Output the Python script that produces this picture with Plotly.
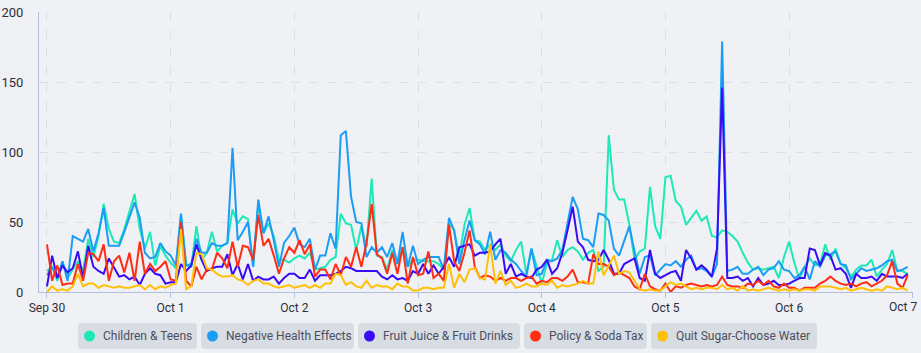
import plotly.graph_objects as go
import pandas as pd

# ---------------- data (hourly, Sep 30 00:00 -> Oct 6 23:00) ----------------
start_time = "2024-09-30 00:00"
n_points = 168

series_names = ["Children & Teens", "Negative Health Effects", "Fruit Juice & Fruit Drinks",
                "Policy & Soda Tax", "Quit Sugar-Choose Water"]
series_colors = ["#1de9b6", "#1b9cf5", "#3a0cf5", "#ff2d14", "#ffc107"]

children_teens = [
    15, 18, 8, 22, 10, 16, 22, 15, 38, 25, 40, 63, 45, 36, 35, 45, 57, 70, 45,
    31, 43, 19, 33, 26, 21, 17, 55, 19, 18, 47, 23, 28, 43, 29, 33, 35, 59, 49, 54, 52, 18, 63, 42, 49, 40, 23, 23, 21,
    24, 26, 24, 28, 16, 17, 18, 23, 25, 56, 49, 48, 30, 47, 32, 81, 26, 25, 16, 30, 20, 32, 18, 23, 23, 22, 22,
    22, 20, 16, 49, 44, 25, 48, 60, 37, 36, 30, 34, 30, 34, 26, 22, 30, 36, 13, 31, 18, 6, 20, 23, 37, 25, 30,
    32, 29, 23, 28, 30, 15, 18, 112, 73, 66, 66, 48, 23, 29, 31, 75, 47, 38, 82, 83, 65, 61, 48, 53, 58, 51, 54,
    40, 39, 44, 43, 40, 36, 28, 21, 16, 17, 16, 17, 18, 10, 25, 36, 21, 9, 18, 24, 19, 20, 34, 23, 31, 20, 17, 11,
    16, 19, 19, 23, 11, 16, 20, 30, 15, 15, 13,
]
negative_health = [
    12, 18, 10, 22, 8, 40, 38, 36, 45, 29, 42, 60, 33, 33, 33, 43, 53, 64, 53,
    28, 24, 25, 35, 29, 26, 19, 56, 19, 20, 38, 28, 28, 35, 33, 33, 35, 103, 37, 43, 50, 18, 66, 42, 54, 37, 18, 35, 40,
    46, 34, 32, 38, 16, 26, 26, 42, 31, 112, 115, 68, 50, 49, 25, 32, 28, 32, 25, 35, 20, 43, 18, 33, 20, 23, 25,
    25, 25, 16, 53, 44, 20, 37, 51, 37, 34, 27, 43, 23, 30, 28, 23, 20, 15, 11, 31, 12, 13, 23, 22, 24, 30, 49,
    68, 59, 38, 37, 32, 56, 55, 51, 31, 26, 36, 47, 29, 13, 25, 26, 12, 16, 20, 19, 22, 18, 23, 26, 16, 17, 15,
    11, 20, 179, 15, 16, 18, 13, 13, 16, 18, 12, 16, 17, 22, 16, 15, 10, 12, 18, 9, 22, 18, 26, 27, 29, 20, 19, 9,
    13, 17, 15, 16, 17, 19, 22, 23, 15, 16, 18,
]
fruit_juice = [
    4, 26, 10, 19, 14, 17, 29, 10, 33, 18, 15, 13, 24, 17, 11, 12, 9, 11, 5,
    13, 17, 13, 12, 6, 7, 7, 20, 15, 19, 34, 23, 15, 17, 18, 18, 27, 12, 20, 9, 20, 8, 11, 9, 9, 11, 6, 10, 13,
    13, 10, 10, 16, 8, 12, 12, 12, 13, 15, 18, 17, 15, 15, 15, 15, 15, 11, 9, 12, 9, 10, 8, 15, 13, 20, 13,
    19, 13, 18, 25, 18, 32, 33, 34, 26, 28, 28, 29, 34, 38, 13, 20, 11, 13, 11, 10, 16, 18, 23, 13, 17, 28, 44,
    61, 36, 32, 23, 22, 23, 30, 23, 13, 13, 20, 22, 24, 10, 8, 30, 13, 10, 12, 14, 15, 8, 30, 24, 16, 19, 16,
    11, 31, 146, 10, 10, 11, 8, 10, 4, 10, 5, 6, 8, 5, 5, 6, 8, 10, 10, 31, 30, 19, 28, 26, 16, 17, 13, 3,
    13, 10, 10, 11, 8, 13, 11, 11, 11, 10, 13,
]
policy_soda = [
    34, 8, 19, 5, 6, 6, 20, 8, 28, 27, 22, 34, 8, 22, 26, 14, 28, 8, 36,
    13, 20, 15, 18, 22, 9, 8, 50, 8, 4, 18, 9, 16, 16, 28, 24, 17, 36, 18, 33, 32, 23, 55, 33, 38, 26, 13, 24, 32,
    28, 37, 27, 34, 11, 16, 16, 9, 20, 12, 25, 18, 32, 18, 35, 63, 27, 24, 13, 28, 13, 32, 6, 25, 12, 13, 29,
    10, 13, 8, 48, 22, 15, 28, 44, 18, 10, 12, 11, 8, 10, 8, 10, 10, 8, 10, 11, 6, 8, 7, 10, 10, 8, 11,
    16, 7, 7, 6, 27, 20, 20, 18, 12, 14, 12, 10, 4, 2, 13, 4, 2, 1, 6, 0, 4, 3, 5, 6, 5, 4, 5,
    4, 5, 11, 5, 4, 4, 3, 6, 5, 8, 5, 8, 4, 3, 6, 3, 3, 1, 3, 3, 3, 6, 8, 11, 8, 6, 5, 6,
    4, 6, 7, 4, 6, 8, 12, 22, 6, 3, 12,
]
quit_sugar = [
    0, 4, 1, 2, 1, 4, 13, 4, 6, 6, 3, 5, 4, 3, 4, 3, 3, 4, 5,
    2, 5, 2, 4, 3, 5, 6, 45, 2, 4, 28, 27, 17, 16, 13, 11, 11, 12, 9, 8, 5, 8, 9, 6, 6, 4, 3, 4, 5,
    3, 4, 5, 3, 5, 3, 6, 6, 13, 12, 5, 7, 4, 3, 8, 3, 5, 4, 4, 2, 6, 4, 4, 1, 1, 3, 3,
    2, 3, 3, 20, 3, 13, 7, 16, 17, 10, 9, 34, 6, 15, 5, 8, 3, 4, 6, 4, 4, 6, 5, 8, 3, 5, 4,
    5, 6, 8, 6, 6, 29, 12, 19, 26, 13, 15, 14, 8, 2, 1, 2, 1, 1, 4, 7, 5, 6, 4, 2, 3, 2, 3,
    3, 2, 5, 2, 3, 1, 4, 1, 2, 1, 2, 3, 2, 1, 2, 1, 2, 1, 2, 2, 1, 4, 4, 4, 3, 2, 3, 1,
    2, 3, 2, 1, 2, 1, 4, 3, 2, 3, 1,
]
all_series = [children_teens, negative_health, fruit_juice, policy_soda, quit_sugar]

y_range = [0, 200]
y_dtick = 50
x_range = ["2024-09-29 22:27", "2024-10-07 00:02"]
end_tick = "2024-10-07"
end_tick_label = "Oct 7"

# ---------------- figure ----------------
BG = "#f0f1f4"
AXIS = "#b4bede"
GRID = "#dcdfe6"
TEXT = "#2b2f3b"

times = pd.date_range(start_time, periods=n_points, freq="h")

fig = go.Figure()
for name, vals, col in zip(series_names, all_series, series_colors):
    fig.add_trace(go.Scatter(x=times, y=vals, mode="lines", name=name,
                             line=dict(color=col, width=2), showlegend=False,
                             hovertemplate="%{y}<extra>" + name + "</extra>"))

W, H = 921, 353
ML, MR, MT, MB = 39, 8, 12, 61
PW, PH = W - ML - MR, H - MT - MB

fig.update_layout(
    width=W, height=H,
    margin=dict(l=ML, r=MR, t=MT, b=MB, autoexpand=False),
    paper_bgcolor=BG, plot_bgcolor=BG,
    font=dict(family="Roboto", size=12, color=TEXT),
    showlegend=False,
)
fig.update_xaxes(
    range=x_range, tickformat="%b %-d", dtick=86400000, tick0="2024-09-30",
    showline=True, linecolor=AXIS, linewidth=1,
    ticks="outside", ticklen=5, tickcolor=AXIS,
    showgrid=True, gridcolor=GRID, griddash="dash", gridwidth=1,
    zeroline=False, tickfont=dict(size=12, color=TEXT), automargin=False,
)
fig.update_yaxes(
    range=y_range, dtick=y_dtick,
    showline=True, linecolor=AXIS, linewidth=1,
    showgrid=True, gridcolor=GRID, griddash="dash", gridwidth=1,
    zeroline=False, ticklabelstandoff=12, tickfont=dict(size=13, color=TEXT),
    automargin=False,
)

# ---------------- custom legend (pill boxes) ----------------
def px_to_paper(px, py):
    return (px - ML) / PW, (H - MB - py) / PH

legend_boxes = [(78, 197), (201, 354), (358, 520), (524, 647), (651, 817)]
box_top, box_bot = 323, 349
r = 4
shapes = []
annotations = []
for (x0, x1), name, col in zip(legend_boxes, series_names, series_colors):
    cx, cy = (x0 + x1) / 2, (box_top + box_bot) / 2
    w, h = x1 - x0, box_bot - box_top
    ax, ay = px_to_paper(cx, cy)
    hw, hh = w / 2, h / 2
    path = (f"M {-hw + r},{-hh} L {hw - r},{-hh} Q {hw},{-hh} {hw},{-hh + r} "
            f"L {hw},{hh - r} Q {hw},{hh} {hw - r},{hh} L {-hw + r},{hh} "
            f"Q {-hw},{hh} {-hw},{hh - r} L {-hw},{-hh + r} Q {-hw},{-hh} {-hw + r},{-hh} Z")
    shapes.append(dict(type="path", xref="paper", yref="paper", xsizemode="pixel", ysizemode="pixel",
                       xanchor=ax, yanchor=ay, path=path, fillcolor="#d8dce3", line=dict(width=0),
                       layer="below"))
    dx, dy = px_to_paper(x0 + 11.5, cy)
    shapes.append(dict(type="circle", xref="paper", yref="paper", xsizemode="pixel", ysizemode="pixel",
                       xanchor=dx, yanchor=dy, x0=-5.5, x1=5.5, y0=-5.5, y1=5.5,
                       fillcolor=col, line=dict(width=0)))
    tx, ty = px_to_paper(x0 + 22.5, cy)
    annotations.append(dict(x=tx, y=ty, xref="paper", yref="paper", xanchor="left", yanchor="middle",
                            text=name, showarrow=False, font=dict(size=12, color="#4a4f5f")))

# last x tick label, kept inside the page (like the reference)
annotations.append(dict(x=end_tick, y=0, xref="x", yref="paper", xanchor="right", yanchor="top",
                        xshift=6, yshift=-6, text=end_tick_label, showarrow=False,
                        font=dict(size=12, color=TEXT)))

fig.update_layout(shapes=shapes, annotations=annotations)

fig.write_html("out.html")
